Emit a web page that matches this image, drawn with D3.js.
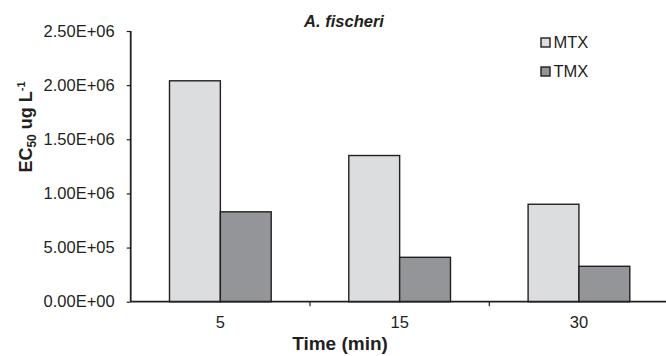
<!DOCTYPE html>
<html>
<head>
<meta charset="utf-8" />
<script src="https://cdn.jsdelivr.net/npm/d3@7"></script>
<style>
	body { margin: 0; background: #fff; }
	text { font-family: "Liberation Sans", Arial, sans-serif; fill: #231f20; }
</style>
</head>
<body>
<div id="chart"></div>
<script>
	// data
	const categories = ["5", "15", "30"];
	const series = ["MTX", "TMX"];
	const mtxValues = [2.04e6, 1.35e6, 0.90e6];
	const tmxValues = [0.83e6, 0.41e6, 0.327e6];
	const yTicks = [0, 5e5, 1e6, 1.5e6, 2e6, 2.5e6];
	const colors = { MTX: "#dcdddf", TMX: "#939598" };

	const width = 666, height = 356;
	const plotLeft = 130.7, plotRight = 668.6, plotTop = 31, plotBottom = 301.7;

	const svg = d3.select("#chart").append("svg")
		.attr("width", width)
		.attr("height", height);

	const x = d3.scaleBand().domain(categories).range([plotLeft, plotRight]).padding(0);
	const xSub = d3.scaleBand().domain(series).range([0, x.bandwidth()])
		.paddingInner(0).paddingOuter(0.763);
	const y = d3.scaleLinear().domain([0, 2.5e6]).range([plotBottom, plotTop]);

	const rows = categories.map((c, i) => ({ cat: c, MTX: mtxValues[i], TMX: tmxValues[i] }));

	// bars
	const groups = svg.append("g").selectAll("g").data(rows).join("g")
		.attr("transform", d => `translate(${x(d.cat)},0)`);
	groups.selectAll("rect")
		.data(d => series.map(s => ({ key: s, value: d[s] })))
		.join("rect")
		.attr("x", d => xSub(d.key))
		.attr("y", d => y(d.value))
		.attr("width", xSub.bandwidth())
		.attr("height", d => plotBottom - y(d.value))
		.attr("fill", d => colors[d.key])
		.attr("stroke", "#231f20")
		.attr("stroke-width", 1.4);

	// y axis
	function expFmt(v) {
		const s = v.toExponential(2).toUpperCase();
		const m = s.match(/^(.*)E([+-])(\d+)$/);
		return m[1] + "E" + m[2] + m[3].padStart(2, "0");
	}
	const yAxis = svg.append("g")
		.attr("transform", `translate(${plotLeft},0)`)
		.call(d3.axisLeft(y).tickValues(yTicks).tickFormat(expFmt).tickSize(4).tickPadding(12));
	yAxis.select(".domain").attr("stroke", "#231f20").attr("stroke-width", 1.8)
		.attr("d", `M0,${plotTop}V${plotBottom}`);
	yAxis.selectAll(".tick line").attr("stroke", "#231f20").attr("stroke-width", 1.2);
	yAxis.selectAll(".tick text").attr("font-size", 16.5).style("font-family", "Liberation Sans, Arial, sans-serif").attr("fill", "#231f20");

	// x axis
	svg.append("line")
		.attr("x1", plotLeft).attr("x2", plotRight)
		.attr("y1", plotBottom).attr("y2", plotBottom)
		.attr("stroke", "#231f20").attr("stroke-width", 1.8);
	svg.append("g").selectAll("line").data(categories.slice(1).map(c => x(c)).concat([plotRight]))
		.join("line")
		.attr("x1", d => d).attr("x2", d => d)
		.attr("y1", plotBottom).attr("y2", plotBottom + 4.5)
		.attr("stroke", "#231f20").attr("stroke-width", 1.2);
	svg.append("g").selectAll("text").data(categories).join("text")
		.attr("x", d => x(d) + x.bandwidth() / 2)
		.attr("y", 328)
		.attr("text-anchor", "middle")
		.attr("font-size", 16.5)
		.text(d => d);

	// axis titles
	svg.append("text")
		.attr("x", 340).attr("y", 350)
		.attr("text-anchor", "middle")
		.attr("font-size", 19).attr("font-weight", "bold")
		.text("Time (min)");

	const yl = svg.append("text")
		.attr("transform", "translate(32,127) rotate(-90)")
		.attr("text-anchor", "middle")
		.attr("font-size", 18).attr("font-weight", "bold");
	yl.append("tspan").text("EC");
	yl.append("tspan").attr("font-size", 12).attr("dy", 4).text("50");
	yl.append("tspan").attr("dy", -4).text(" ug L");
	yl.append("tspan").attr("font-size", 11).attr("dy", -7).text("-1");

	// title
	svg.append("text")
		.attr("x", 344).attr("y", 27)
		.attr("text-anchor", "middle")
		.attr("font-size", 16.5).attr("font-weight", "bold").attr("font-style", "italic")
		.text("A. fischeri");

	// legend
	const legend = svg.append("g").selectAll("g").data(series).join("g")
		.attr("transform", (d, i) => `translate(541,${38 + i * 29})`);
	legend.append("rect")
		.attr("width", 9).attr("height", 9)
		.attr("fill", d => colors[d])
		.attr("stroke", "#231f20").attr("stroke-width", 1.4);
	legend.append("text")
		.attr("x", 12.5).attr("y", 9.5)
		.attr("font-size", 16.5)
		.text(d => d);
</script>
</body>
</html>
